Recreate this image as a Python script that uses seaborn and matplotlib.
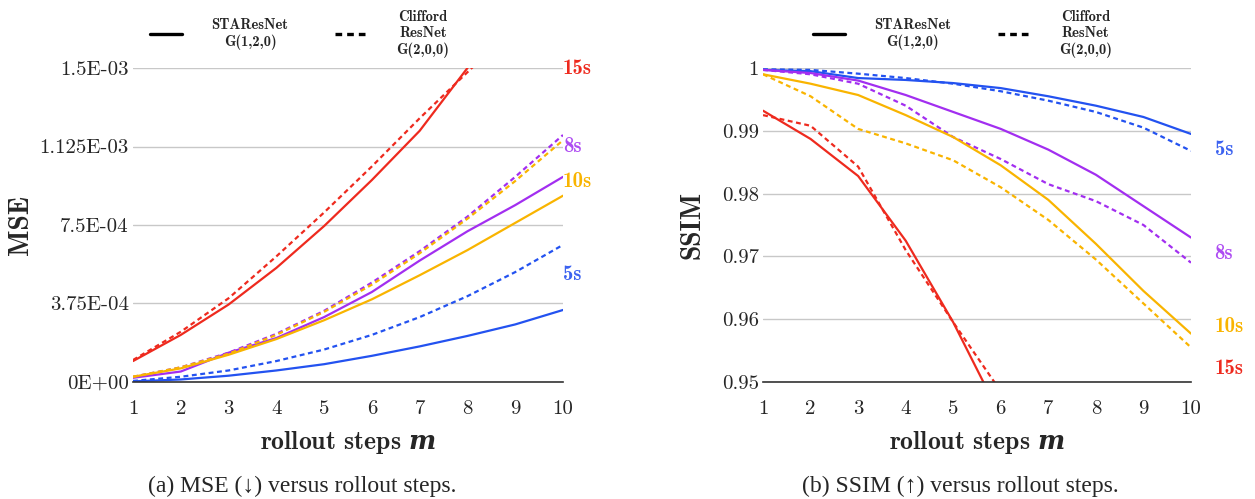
import matplotlib
matplotlib.use("Agg")
import matplotlib.pyplot as plt
from matplotlib.lines import Line2D
import numpy as np
import pandas as pd
import seaborn as sns

steps = [1, 2, 3, 4, 5, 6, 7, 8, 9, 10]
sims = ['5s', '8s', '10s', '15s']
models = ['STAResNet', 'Clifford']

# MSE values
mse_sta = {
    '5s':  [3e-6, 1.2e-5, 3.0e-5, 5.5e-5, 8.5e-5, 1.25e-4, 1.7e-4, 2.2e-4, 2.75e-4, 3.44e-4],
    '8s':  [2e-5, 5e-5, 1.4e-4, 2.1e-4, 3.1e-4, 4.3e-4, 5.8e-4, 7.2e-4, 8.45e-4, 9.8e-4],
    '10s': [2.5e-5, 6.5e-5, 1.3e-4, 2.05e-4, 2.95e-4, 3.95e-4, 5.1e-4, 6.3e-4, 7.6e-4, 8.9e-4],
    '15s': [1.0e-4, 2.25e-4, 3.7e-4, 5.45e-4, 7.45e-4, 9.65e-4, 1.2e-3, 1.5e-3, 1.85e-3, 2.2e-3],
}
mse_cliff = {
    '5s':  [5e-6, 2.5e-5, 5.5e-5, 1.0e-4, 1.55e-4, 2.25e-4, 3.1e-4, 4.1e-4, 5.25e-4, 6.55e-4],
    '8s':  [2.5e-5, 7e-5, 1.4e-4, 2.3e-4, 3.4e-4, 4.75e-4, 6.25e-4, 7.9e-4, 9.8e-4, 1.18e-3],
    '10s': [2.5e-5, 7e-5, 1.35e-4, 2.25e-4, 3.35e-4, 4.65e-4, 6.15e-4, 7.8e-4, 9.6e-4, 1.155e-3],
    '15s': [1.05e-4, 2.4e-4, 4.0e-4, 6.0e-4, 8.1e-4, 1.03e-3, 1.26e-3, 1.48e-3, 1.7e-3, 1.95e-3],
}
# SSIM values
ssim_sta = {
    '5s':  [0.9997, 0.9995, 0.9984, 0.9981, 0.9976, 0.9968, 0.9955, 0.9940, 0.9922, 0.9895],
    '8s':  [0.9997, 0.9992, 0.9980, 0.9957, 0.9930, 0.9903, 0.9870, 0.9830, 0.9780, 0.9730],
    '10s': [0.9990, 0.9975, 0.9957, 0.9925, 0.9890, 0.9845, 0.9790, 0.9720, 0.9645, 0.9577],
    '15s': [0.9932, 0.9887, 0.9828, 0.9725, 0.9595, 0.9445, 0.9280, 0.9100, 0.8900, 0.8700],
}
ssim_cliff = {
    '5s':  [0.9998, 0.9997, 0.9991, 0.9984, 0.9975, 0.9963, 0.9948, 0.9930, 0.9905, 0.9868],
    '8s':  [0.9997, 0.9990, 0.9975, 0.9940, 0.9890, 0.9855, 0.9815, 0.9788, 0.9750, 0.9690],
    '10s': [0.9990, 0.9955, 0.9903, 0.9880, 0.9853, 0.9810, 0.9758, 0.9695, 0.9625, 0.9555],
    '15s': [0.9925, 0.9908, 0.9843, 0.9710, 0.9595, 0.9485, 0.9330, 0.9150, 0.8950, 0.8750],
}

colors = {'5s': '#2352F0', '8s': '#A22EF0', '10s': '#F9B400', '15s': '#EE2A1E'}
label_colors = {'5s': '#3D63F0', '8s': '#AE4CF2', '10s': '#F9B400', '15s': '#EE2A1E'}


def to_long(sta, cliff):
    rows = []
    for s in sims:
        for m, d in (('STAResNet', sta), ('Clifford', cliff)):
            for x, v in zip(steps, d[s]):
                rows.append({'step': x, 'value': v, 'sim': s, 'model': m})
    return pd.DataFrame(rows)


mse_df = to_long(mse_sta, mse_cliff)
ssim_df = to_long(ssim_sta, ssim_cliff)

sns.set_theme(style='white')
plt.rcParams['font.family'] = ['cmr10', 'DejaVu Serif']
plt.rcParams['axes.unicode_minus'] = False
plt.rcParams['mathtext.fontset'] = 'custom'
plt.rcParams['mathtext.it'] = 'DejaVu Serif:style=italic:weight=bold'

fig = plt.figure(figsize=(12.55, 4.99), dpi=100)
ax1 = fig.add_axes([0.106, 0.2345, 0.3426, 0.6292])
ax2 = fig.add_axes([0.608, 0.2345, 0.341, 0.6292])

dash_map = {'STAResNet': '', 'Clifford': (2.2, 1.6)}

for ax, df in ((ax1, mse_df), (ax2, ssim_df)):
    sns.lineplot(data=df, x='step', y='value', hue='sim', style='model',
                 palette=colors, dashes=dash_map, linewidth=1.6,
                 legend=False, ax=ax)

# MSE panel
ax1.set_xlim(1, 10)
ax1.set_ylim(0, 1.5e-3)
mse_ticks = [0, 3.75e-4, 7.5e-4, 1.125e-3, 1.5e-3]
mse_ticklabels = ['0E+00', '3.75E-04', '7.5E-04', '1.125E-03', '1.5E-03']
ax1.set_yticks(mse_ticks)
ax1.set_yticklabels(mse_ticklabels)
ax1.set_ylabel('MSE', fontfamily='cmb10', fontsize=20, labelpad=4)

# SSIM panel
ax2.set_xlim(1, 10)
ax2.set_ylim(0.95, 1.0)
ax2.set_yticks([0.95, 0.96, 0.97, 0.98, 0.99, 1.0])
ax2.set_yticklabels(['0.95', '0.96', '0.97', '0.98', '0.99', '1'])
ax2.set_ylabel('SSIM', fontfamily='cmb10', fontsize=20, labelpad=12)

for ax in (ax1, ax2):
    ax.set_xticks(steps)
    ax.set_xticklabels([str(s) for s in steps])
    ax.tick_params(axis='both', labelsize=15, length=0)
    ax.tick_params(axis='y', pad=3)
    ax.tick_params(axis='x', pad=13)
    ax.grid(axis='y', color='#c8c8c8', linewidth=1.0)
    ax.grid(axis='x', visible=False)
    for sp in ('top', 'right', 'left'):
        ax.spines[sp].set_visible(False)
    ax.spines['bottom'].set_color('#333333')
    ax.spines['bottom'].set_linewidth(1.2)
    ax.set_xlabel('rollout steps $m$', fontfamily='cmb10', fontsize=18.5, labelpad=8)

legend_x = {ax1: 0.239, ax2: 0.767}
for ax in (ax1, ax2):
    handles = [Line2D([0], [0], color='black', lw=2.4),
               Line2D([0], [0], color='black', lw=2.4, dashes=(2.0, 1.5))]
    leg = ax.legend(handles, ['STAResNet\nG(1,2,0)', 'Clifford\nResNet\nG(2,0,0)'],
                    ncol=2, loc='center', bbox_to_anchor=(legend_x[ax], 0.932),
                    bbox_transform=fig.transFigure, frameon=False,
                    handlelength=2.2, handletextpad=2.0, columnspacing=3.2,
                    labelspacing=0.2, prop={'family': 'cmb10', 'size': 10.5})
    for t in leg.get_texts():
        t.set_multialignment('center')

# end-of-line labels
mse_label_y = {'15s': 1.5e-3, '8s': 1.125e-3, '10s': 9.6e-4, '5s': 5.15e-4}
for s, y in mse_label_y.items():
    ax1.text(1.0, y, s, transform=ax1.get_yaxis_transform(), color=label_colors[s],
             fontfamily='cmb10', fontsize=15, va='center', ha='left')

ssim_label_y = {'5s': 0.9871, '8s': 0.9705, '10s': 0.9588, '15s': 0.9522}
for s, y in ssim_label_y.items():
    ax2.text(1.055, y, s, transform=ax2.get_yaxis_transform(), color=label_colors[s],
             fontfamily='cmb10', fontsize=15, va='center', ha='left')

cap = ['Liberation Serif', 'DejaVu Serif']
fig.text(0.241, 0.026, '(a) MSE (\u2193) versus rollout steps.', ha='center',
         va='center', fontsize=17, family=cap)
fig.text(0.765, 0.026, '(b) SSIM (\u2191) versus rollout steps.', ha='center',
         va='center', fontsize=17, family=cap)

fig.savefig('out.png', dpi=100)
